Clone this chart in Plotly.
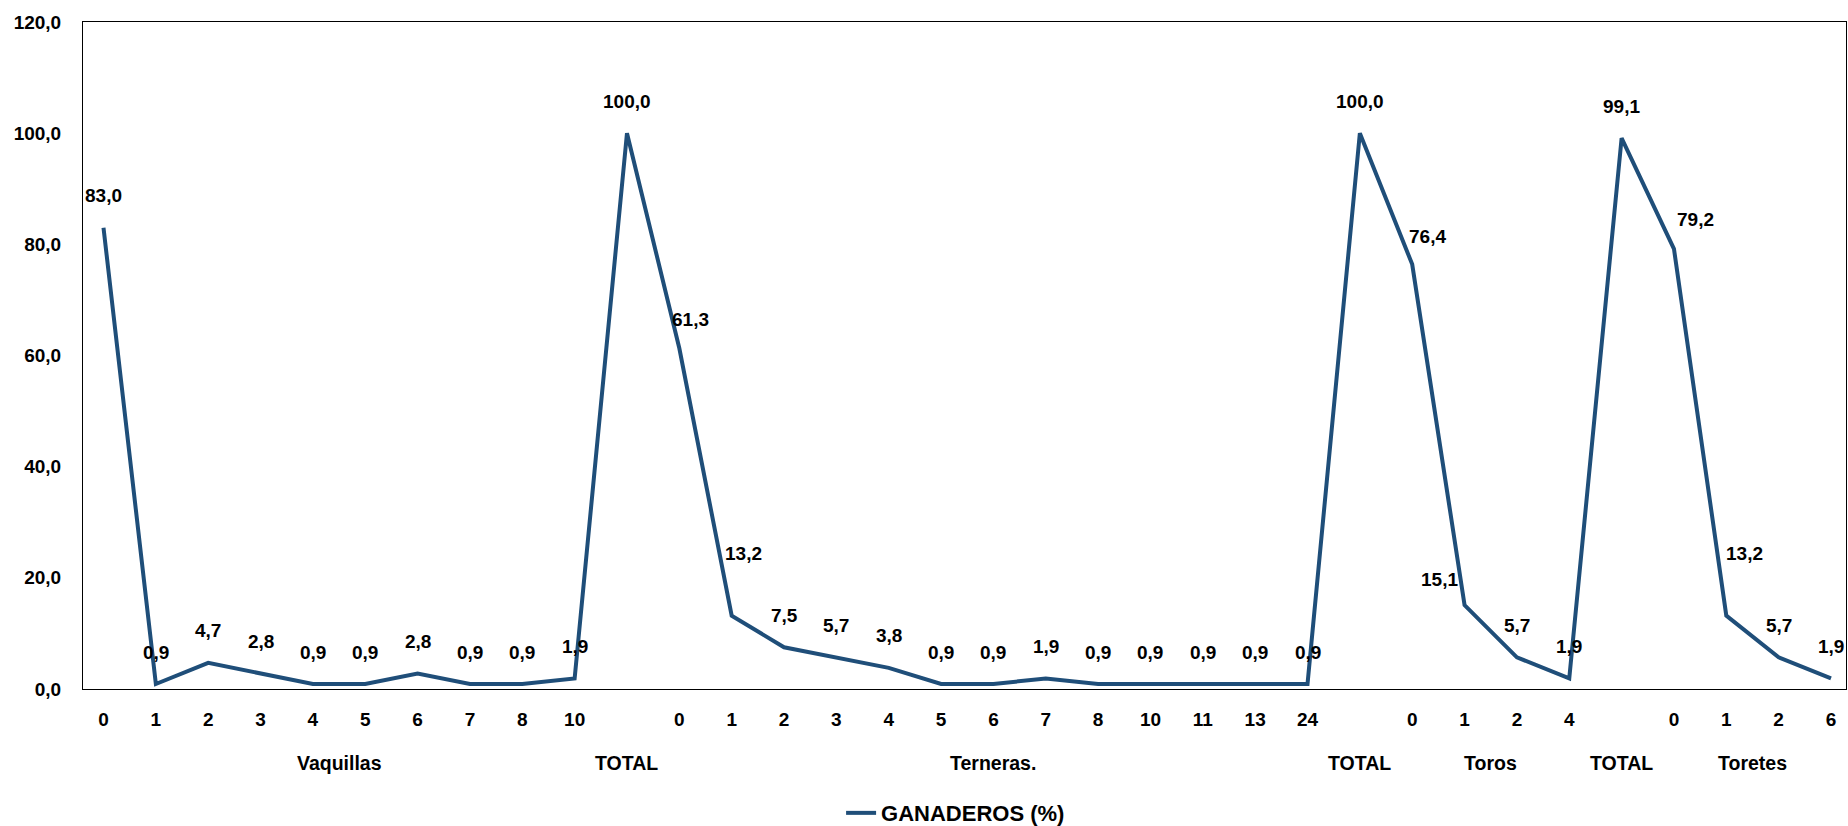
import plotly.graph_objects as go

# ---- data ----
groups = (["Vaquillas"] * 10 + ["TOTAL"] + ["Terneras."] * 13 + ["TOTAL "] +
          ["Toros"] * 4 + ["TOTAL  "] + ["Toretes"] * 4)
subcats = (["0", "1", "2", "3", "4", "5", "6", "7", "8", "10"] + [""] +
           ["0", "1", "2", "3", "4", "5", "6", "7", "8", "10", "11", "13", "24"] + [""] +
           ["0", "1", "2", "4"] + [""] +
           ["0", "1", "2", "6"])
values = ([83.0, 0.9, 4.7, 2.8, 0.9, 0.9, 2.8, 0.9, 0.9, 1.9] + [100.0] +
          [61.3, 13.2, 7.5, 5.7, 3.8, 0.9, 0.9, 1.9, 0.9, 0.9, 0.9, 0.9, 0.9] + [100.0] +
          [76.4, 15.1, 5.7, 1.9] + [99.1] +
          [79.2, 13.2, 5.7, 1.9])
series_name = "GANADEROS (%)"

# label offsets (pixels) for manually-moved labels: index -> (dx, yshift)
label_shift = {11: (11, 29), 12: (12, 62), 25: (15, 28), 26: (-25, 26), 30: (22, 29), 31: (18, 62)}
DEFAULT_YSHIFT = 32

FONT = "Liberation Sans, Arial, sans-serif"
LINE = "#1F4E79"

keys = [f"{g}|{s}" for g, s in zip(groups, subcats)]

fig = go.Figure()
fig.add_trace(go.Scatter(
    x=keys, y=values, mode="lines", name=series_name,
    line=dict(color=LINE, width=4), showlegend=True,
))

annotations = []
for i, v in enumerate(values):
    dx, dy = label_shift.get(i, (0, DEFAULT_YSHIFT))
    annotations.append(dict(
        x=i, y=v, xref="x", yref="y", text=f"{v:.1f}".replace(".", ","),
        showarrow=False, xshift=dx, yshift=dy,
        font=dict(family=FONT, size=19, color="black", weight="bold"),
    ))

# group labels (second level of the category axis)
seen = []
for g in groups:
    if g not in seen:
        seen.append(g)
for g in seen:
    idx = [i for i, gg in enumerate(groups) if gg == g]
    annotations.append(dict(
        x=sum(idx) / len(idx), y=-0.111, xref="x", yref="paper",
        text=g.strip(), showarrow=False, yanchor="middle",
        font=dict(family=FONT, size=19.5, color="black", weight="bold"),
    ))

fig.update_layout(
    width=1848, height=826,
    margin=dict(l=83, r=2, t=22, b=137, autoexpand=False),
    paper_bgcolor="white", plot_bgcolor="white",
    separators=",.",
    font=dict(family=FONT, size=19, color="black", weight="bold"),
    showlegend=True,
    legend=dict(orientation="h", x=0.43, xanchor="left", y=-0.186, yanchor="middle",
                font=dict(family=FONT, size=22, color="black", weight="bold")),
    annotations=annotations,
)
fig.update_xaxes(
    type="category", showgrid=False, automargin=False,
    tickmode="array", tickvals=keys, ticktext=subcats,
    showline=True, mirror=True, linecolor="black", linewidth=1,
    tickfont=dict(family=FONT, size=19, color="black", weight="bold"),
    ticks="outside", ticklen=13, tickcolor="rgba(0,0,0,0)",
)
fig.update_yaxes(
    range=[0, 120], dtick=20, tickformat=".1f", showgrid=False, zeroline=False,
    automargin=False,
    showline=True, mirror=True, linecolor="black", linewidth=1,
    tickfont=dict(family=FONT, size=19, color="black", weight="bold"),
    ticks="outside", ticklen=17, tickcolor="rgba(0,0,0,0)",
)

fig.write_html("out.html")
